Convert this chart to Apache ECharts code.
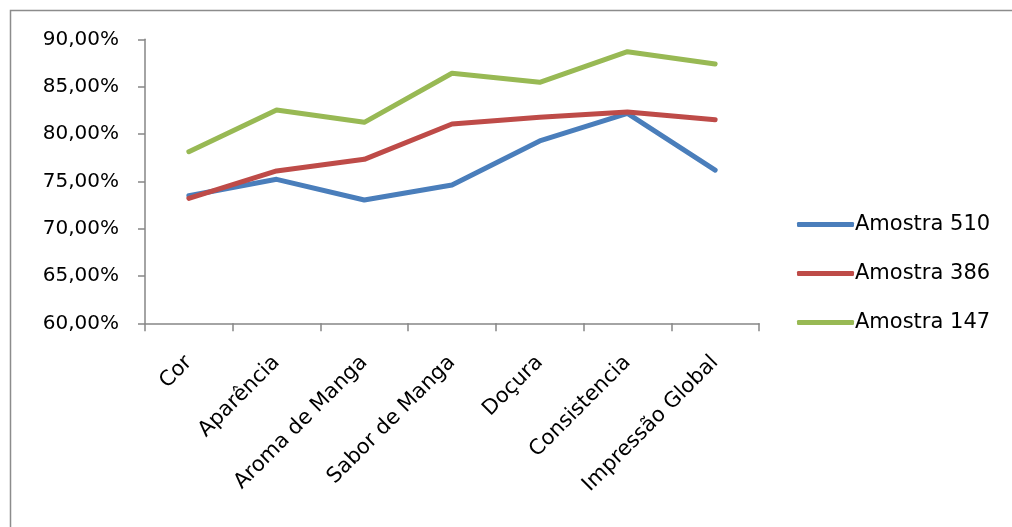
<!DOCTYPE html>
<html>
<head>
<meta charset="utf-8">
<script src="https://cdn.jsdelivr.net/npm/echarts@6/dist/echarts.min.js"></script>
<style>
  html, body { margin: 0; padding: 0; background: #fff; }
  #chart { width: 1012px; height: 527px; }
</style>
</head>
<body>
<div id="chart"></div>
<script>
// categorias
var categorias = ['Cor', 'Aparência', 'Aroma de Manga', 'Sabor de Manga', 'Doçura', 'Consistencia', 'Impressão Global'];
var nomes = ['Amostra 510', 'Amostra 386', 'Amostra 147'];
// valores em %
var amostra510 = [73.48, 75.21, 73.02, 74.61, 79.26, 82.18, 76.19];
var amostra386 = [73.20, 76.09, 77.32, 81.05, 81.76, 82.32, 81.51];
var amostra147 = [78.13, 82.53, 81.23, 86.41, 85.46, 88.69, 87.39];
var cores = ['#4a7ebb', '#be4b48', '#98b954'];

var fonte = 'DejaVu Sans';
var cinza = '#868686';

var chart = echarts.init(document.getElementById('chart'));

function linha(nome, dados, cor) {
    return {
        name: nome,
        type: 'line',
        data: dados,
        symbol: 'none',
        color: cor,
        lineStyle: { width: 5, color: cor, cap: 'round', join: 'round' },
        emphasis: { disabled: true },
        animation: false
    };
}

var option = {
    backgroundColor: '#fff',
    animation: false,
    graphic: [{
        type: 'rect',
        shape: { x: 10.5, y: 10.5, width: 1010, height: 530 },
        style: { fill: 'none', stroke: '#8c8c8c', lineWidth: 1.5 },
        silent: true
    }],
    grid: { left: 145, right: 253, top: 39.3, bottom: 203.7, containLabel: false },
    legend: {
        orient: 'vertical',
        left: 797,
        top: 214,
        padding: 0,
        icon: 'roundRect',
        itemWidth: 57,
        itemHeight: 5,
        itemGap: 28,
        textStyle: { fontFamily: fonte, fontSize: 21, color: '#000', lineHeight: 21, padding: [0, 0, 0, -4] },
        data: nomes
    },
    xAxis: {
        type: 'category',
        data: categorias,
        boundaryGap: true,
        axisLine: { lineStyle: { color: cinza, width: 1.5 } },
        axisTick: { show: true, length: 8, lineStyle: { color: cinza, width: 1.5 } },
        axisLabel: {
            rotate: 45,
            margin: 36,
            interval: 0,
            fontFamily: fonte,
            fontSize: 21,
            color: '#000'
        },
        splitLine: { show: false }
    },
    yAxis: {
        type: 'value',
        min: 60,
        max: 90,
        interval: 5,
        axisLine: { show: true, lineStyle: { color: cinza, width: 1.5 } },
        axisTick: { show: true, length: 7, lineStyle: { color: cinza, width: 1.5 } },
        axisLabel: {
            margin: 26,
            fontFamily: fonte,
            fontSize: 20,
            color: '#000',
            formatter: function (v) { return v.toFixed(2).replace('.', ',') + '%'; }
        },
        splitLine: { show: false }
    },
    series: [
        linha(nomes[0], amostra510, cores[0]),
        linha(nomes[1], amostra386, cores[1]),
        linha(nomes[2], amostra147, cores[2])
    ]
};

chart.setOption(option);
</script>
</body>
</html>
